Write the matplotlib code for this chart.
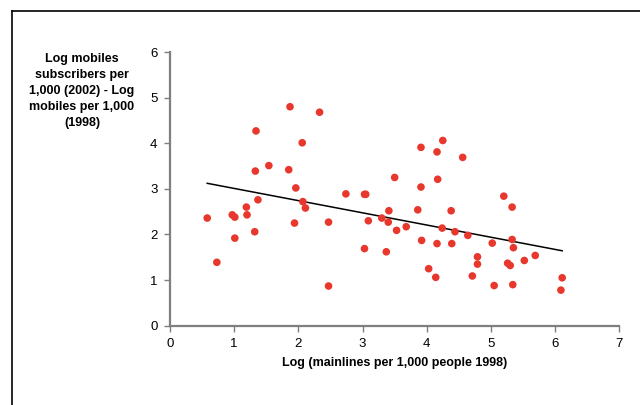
import numpy as np
import matplotlib
matplotlib.use("Agg")
import matplotlib.pyplot as plt
from matplotlib.lines import Line2D

plt.rcParams['font.family'] = ['Liberation Sans', 'DejaVu Sans']

# log mainlines per 1,000 (1998)
mainlines = [0.58, 0.73, 0.97, 1.01, 1.01, 1.19, 1.20, 1.32, 1.37, 1.33, 1.34,
             1.54, 1.85, 1.87, 1.94, 1.96, 2.06, 2.07, 2.11, 2.33, 2.47, 2.47,
             2.74, 3.03, 3.05, 3.03, 3.09, 3.30, 3.37, 3.40, 3.41, 3.50, 3.53,
             3.68, 3.86, 3.91, 3.91, 3.92, 4.03, 4.14, 4.16, 4.16, 4.17, 4.24,
             4.25, 4.38, 4.39, 4.44, 4.56, 4.64, 4.71, 4.79, 4.79, 5.02, 5.05,
             5.20, 5.26, 5.30, 5.33, 5.33, 5.34, 5.35, 5.52, 5.69, 6.09, 6.11]
# log mobiles 2002 - log mobiles 1998
mobiles_diff = [2.36, 1.39, 2.43, 2.38, 1.92, 2.60, 2.43, 2.06, 2.76, 3.39, 4.27,
                3.51, 3.42, 4.80, 2.25, 3.02, 4.01, 2.72, 2.58, 4.68, 0.87, 2.27,
                2.89, 2.88, 2.88, 1.69, 2.30, 2.36, 1.62, 2.27, 2.52, 3.25, 2.09,
                2.17, 2.54, 3.04, 3.91, 1.87, 1.25, 1.06, 3.81, 1.80, 3.21, 2.14,
                4.06, 2.52, 1.80, 2.06, 3.69, 1.98, 1.09, 1.51, 1.35, 1.81, 0.88,
                2.84, 1.37, 1.32, 2.60, 1.89, 0.90, 1.71, 1.43, 1.54, 0.78, 1.05]

x = np.array(mainlines)
y = np.array(mobiles_diff)
slope, icept = np.polyfit(x, y, 1)
xfit = np.array([x.min(), x.max()])

fig = plt.figure(figsize=(6.4, 4.05), dpi=100)
ax = fig.add_axes([0.2656, 0.1958, 0.7021, 0.6758])

ax.scatter(x, y, s=30, color='#E8372C', edgecolors='none', zorder=3)
ax.plot(xfit, slope * xfit + icept, color='black', lw=1.1, zorder=2)

ax.set_xlim(0, 7)
ax.set_ylim(0, 6)
ax.set_xticks(range(0, 8))
ax.set_yticks(range(0, 7))
for s in ['top', 'right']:
    ax.spines[s].set_visible(False)
for s in ['left', 'bottom']:
    ax.spines[s].set_color('#7f7f7f')
    ax.spines[s].set_linewidth(1.6)
ax.tick_params(direction='out', length=4, width=1, color='#7f7f7f',
               labelsize=9.5, pad=5)

ax.set_xlabel('Log (mainlines per 1,000 people 1998)', fontsize=9,
              fontweight='bold', labelpad=5)
fig.text(82 / 640, 1 - 91 / 405,
         'Log mobiles\nsubscribers per\n1,000 (2002) - Log\nmobiles per 1,000\n(1998)',
         ha='center', va='center', fontsize=9, fontweight='bold',
         linespacing=1.45)

# chart frame (cropped: only top and left edges visible)
fig.add_artist(Line2D([11.5 / 640, 11.5 / 640], [0, 1 - 11 / 405],
                      transform=fig.transFigure, color='black', lw=1.2))
fig.add_artist(Line2D([11.5 / 640, 1], [1 - 11 / 405, 1 - 11 / 405],
                      transform=fig.transFigure, color='black', lw=1.2))

fig.savefig('out.png', dpi=100)
